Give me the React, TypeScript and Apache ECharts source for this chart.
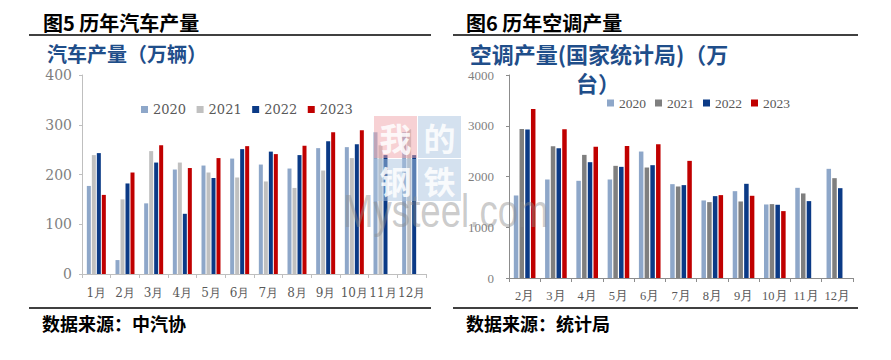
import React, { useEffect, useRef } from "react";
import * as echarts from "echarts";

const carMonths = ["1月", "2月", "3月", "4月", "5月", "6月", "7月", "8月", "9月", "10月", "11月", "12月"];
const car2020 = [177, 28, 142, 210, 218, 232, 220, 212, 253, 255, 285, 285];
const car2021 = [239, 150, 247, 224, 204, 194, 186, 173, 208, 233, 259, 291];
const car2022 = [243, 182, 224, 121, 193, 251, 246, 239, 267, 261, 239, 239];
const car2023 = [159, 204, 259, 213, 233, 257, 241, 258, 285, 289, null, null];

const acMonths = ["2月", "3月", "4月", "5月", "6月", "7月", "8月", "9月", "10月", "11月", "12月"];
const ac2020 = [1626, 1941, 1915, 1941, 2492, 1849, 1528, 1711, 1449, 1777, 2151];
const ac2021 = [2938, 2597, 2426, 2210, 2177, 1803, 1495, 1508, 1456, 1666, 1967];
const ac2022 = [2925, 2557, 2282, 2190, 2223, 1830, 1613, 1856, 1443, 1515, 1770];
const ac2023 = [3331, 2931, 2584, 2603, 2636, 2308, 1633, 1620, 1318, null, null];

const years = ["2020", "2021", "2022", "2023"];
const carColors = ["#8EA7C9", "#C0C0C0", "#0B3A86", "#C00000"];
const acColors = ["#8EA7C9", "#7F7F7F", "#0B3A86", "#C00000"];

const CJK = '"Noto Sans CJK SC", sans-serif';

export default function App() {
  const ref = useRef<HTMLDivElement>(null);
  useEffect(() => {
    if (!ref.current) return;
    const chart = echarts.init(ref.current, undefined, { renderer: "svg" });
    const carData = [car2020, car2021, car2022, car2023];
    const acData = [ac2020, ac2021, ac2022, ac2023];
    const series: any[] = [];
    years.forEach((y, i) => {
      series.push({
        name: "a" + y,
        type: "bar",
        xAxisIndex: 0,
        yAxisIndex: 0,
        data: carData[i],
        barWidth: 4,
        barGap: "25%",
        itemStyle: { color: carColors[i] },
      });
    });
    years.forEach((y, i) => {
      series.push({
        name: "b" + y,
        type: "bar",
        xAxisIndex: 1,
        yAxisIndex: 1,
        data: acData[i],
        barWidth: 4.5,
        barGap: "27%",
        itemStyle: { color: acColors[i] },
      });
    });

    const wmBox = (x: number, y: number, color: string) => ({
      type: "rect",
      z: 100,
      shape: { x, y, width: 43, height: 42 },
      style: { fill: color, opacity: 0.5 },
    });
    const wmChar = (cx: number, cy: number, ch: string) => ({
      type: "text",
      z: 101,
      x: cx,
      y: cy,
      style: {
        text: ch,
        font: `bold 32px ${CJK}`,
        lineHeight: 38,
        fill: "#ffffff",
        opacity: 0.85,
        align: "center",
        verticalAlign: "middle",
      },
    });

    const option: any = {
      animation: false,
      backgroundColor: "#ffffff",
      grid: [
        { left: 82, top: 75, width: 344, height: 199, containLabel: false },
        { left: 509, top: 75, width: 344, height: 203, containLabel: false },
      ],
      legend: [
        {
          data: years.map((y) => "a" + y),
          formatter: (n: string) => n.slice(1),
          left: 136,
          top: 98,
          icon: "rect",
          itemWidth: 7,
          itemHeight: 7,
          itemGap: 10.5,
          textStyle: { color: "#595959", fontSize: 13, fontFamily: '"DejaVu Serif", serif' },
        },
        {
          data: years.map((y) => "b" + y),
          formatter: (n: string) => n.slice(1),
          left: 602,
          top: 91,
          icon: "rect",
          itemWidth: 7,
          itemHeight: 7,
          itemGap: 9,
          textStyle: { color: "#595959", fontSize: 13.5, fontFamily: '"Liberation Serif", serif' },
        },
      ],
      xAxis: [
        {
          type: "category",
          gridIndex: 0,
          data: carMonths,
          axisLine: { lineStyle: { color: "#BFBFBF", width: 1 } },
          axisTick: { show: true, length: 4, lineStyle: { color: "#BFBFBF" } },
          axisLabel: {
            interval: 0,
            color: "#595959",
            fontSize: 12,
            fontFamily: '"DejaVu Serif", serif',
            margin: 13,
          },
        },
        {
          type: "category",
          gridIndex: 1,
          data: acMonths,
          axisLine: { lineStyle: { color: "#8C8C8C", width: 1 } },
          axisTick: { show: true, length: 4, lineStyle: { color: "#8C8C8C" } },
          axisLabel: {
            interval: 0,
            color: "#595959",
            fontSize: 12.5,
            fontFamily: '"Liberation Serif", serif',
            margin: 11,
          },
        },
      ],
      yAxis: [
        {
          type: "value",
          gridIndex: 0,
          min: 0,
          max: 400,
          interval: 100,
          axisLine: { show: true, lineStyle: { color: "#BFBFBF" } },
          axisTick: { show: true, length: 3, lineStyle: { color: "#BFBFBF" } },
          splitLine: { show: false },
          axisLabel: {
            color: "#7F7F7F",
            fontSize: 14,
            fontFamily: '"DejaVu Serif", serif',
            margin: 10,
          },
        },
        {
          type: "value",
          gridIndex: 1,
          min: 0,
          max: 4000,
          interval: 1000,
          axisLine: { show: true, lineStyle: { color: "#8C8C8C" } },
          axisTick: { show: true, length: 3, lineStyle: { color: "#8C8C8C" } },
          splitLine: { show: false },
          axisLabel: {
            color: "#7F7F7F",
            fontSize: 13,
            fontFamily: '"Liberation Serif", serif',
            margin: 15,
            formatter: (v: number) => String(v),
          },
        },
      ],
      series,
      graphic: [
        // left panel
        {
          type: "text",
          x: 43,
          y: 22,
          style: { text: "图5 历年汽车产量", font: `bold 20px ${CJK}`, fill: "#000", verticalAlign: "middle" },
        },
        { type: "line", shape: { x1: 29, y1: 35, x2: 431, y2: 35 }, style: { stroke: "#000", lineWidth: 1.5 } },
        {
          type: "text",
          x: 47,
          y: 53,
          style: { text: "汽车产量（万辆）", font: `bold 20px ${CJK}`, fill: "#1F4E8A", verticalAlign: "middle" },
        },
        { type: "line", shape: { x1: 29, y1: 308, x2: 431, y2: 308 }, style: { stroke: "#000", lineWidth: 1.5 } },
        {
          type: "text",
          x: 42,
          y: 323,
          style: { text: "数据来源：中汽协", font: `bold 18px ${CJK}`, fill: "#000", verticalAlign: "middle" },
        },
        // right panel
        {
          type: "text",
          x: 466,
          y: 22,
          style: { text: "图6 历年空调产量", font: `bold 20px ${CJK}`, fill: "#000", verticalAlign: "middle" },
        },
        { type: "line", shape: { x1: 453, y1: 35, x2: 858, y2: 35 }, style: { stroke: "#000", lineWidth: 1.5 } },
        {
          type: "text",
          x: 599,
          y: 53,
          style: {
            text: "空调产量(国家统计局)（万",
            font: `bold 22px ${CJK}`,
            lineHeight: 24,
            fill: "#1F4E8A",
            align: "center",
            verticalAlign: "middle",
          },
        },
        {
          type: "text",
          x: 598,
          y: 82,
          style: {
            text: "台）",
            font: `bold 22px ${CJK}`,
            lineHeight: 24,
            fill: "#1F4E8A",
            align: "center",
            verticalAlign: "middle",
          },
        },
        { type: "line", shape: { x1: 453, y1: 308, x2: 858, y2: 308 }, style: { stroke: "#000", lineWidth: 1.5 } },
        {
          type: "text",
          x: 466,
          y: 323,
          style: { text: "数据来源：统计局", font: `bold 18px ${CJK}`, fill: "#000", verticalAlign: "middle" },
        },
        // watermark
        wmBox(374, 116, "#EFA3AA"),
        wmBox(418, 116, "#A9C3E0"),
        wmBox(374, 159, "#A9C3E0"),
        wmBox(418, 159, "#A9C3E0"),
        wmChar(395.5, 137, "我"),
        wmChar(439.5, 137, "的"),
        wmChar(395.5, 180, "钢"),
        wmChar(439.5, 180, "铁"),
        {
          type: "text",
          z: 100,
          x: 343,
          y: 211,
          scaleX: 0.78,
          style: {
            text: "Mysteel.com",
            font: `47px "Liberation Sans", Arial, sans-serif`,
            fill: "#8C8C8C",
            opacity: 0.45,
            verticalAlign: "middle",
          },
        },
      ],
    };
    chart.setOption(option);
    return () => chart.dispose();
  }, []);
  return <div ref={ref} style={{ position: "absolute", left: 0, top: 0, width: 891, height: 360 }} />;
}
